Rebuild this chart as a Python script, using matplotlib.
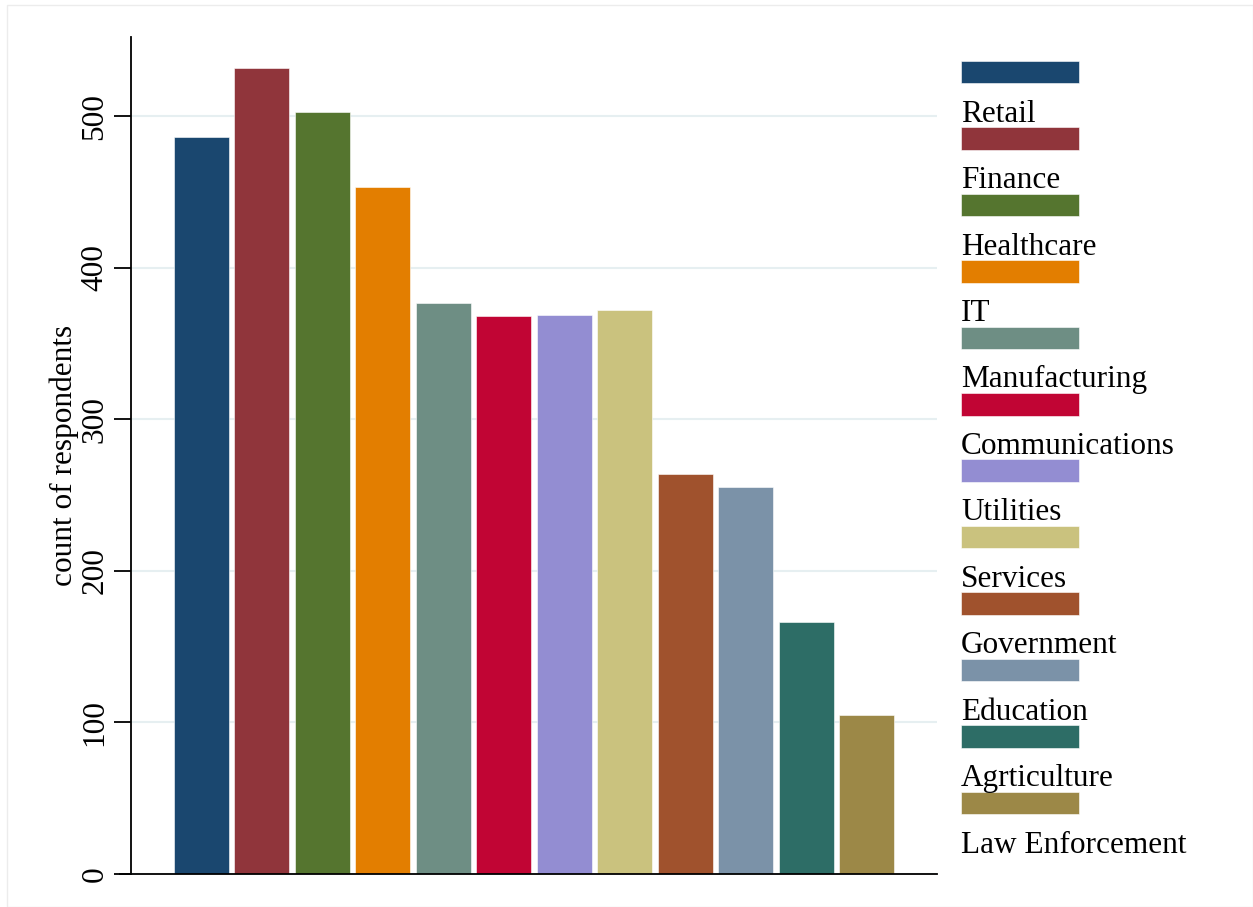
import matplotlib.pyplot as plt
from matplotlib.patches import Rectangle

# bar heights; legend labels sit under each swatch (Stata style)
sectors = ["Retail", "Finance", "Healthcare", "IT", "Manufacturing",
           "Communications", "Utilities", "Services", "Government",
           "Education", "Agrticulture", "Law Enforcement"]
counts = [486, 532, 503, 453, 377, 368, 369, 372, 264, 255, 166, 105]
colors = ["#1a476f", "#90353b", "#55752f", "#e37e00", "#6e8e84", "#c10534",
          "#938dd2", "#cac27e", "#a0522d", "#7b92a8", "#2d6d66", "#9c8847"]
yticks = [0, 100, 200, 300, 400, 500]

W, H = 1253, 907
plt.rcParams["font.family"] = ["Liberation Serif", "DejaVu Serif"]
fig = plt.figure(figsize=(W / 100, H / 100), dpi=100)


def px_box(x0, y0, x1, y1):
    return [x0 / W, 1 - y1 / H, (x1 - x0) / W, (y1 - y0) / H]


ax = fig.add_axes(px_box(131, 36.7, 937, 873.7))
x = list(range(len(counts)))
ax.bar(x, counts, width=0.91, color=colors, edgecolor="white", linewidth=0.4, zorder=2)
ax.set_xlim(-1.165, len(counts) - 1 + 1.165)
ax.set_ylim(0, 552.5)
ax.set_yticks(yticks)
ax.set_yticklabels([str(t) for t in yticks], rotation=90, va="center", fontsize=22.5)
ax.tick_params(axis="y", length=12, width=1.3, pad=3.5)
ax.set_xticks([])
ax.grid(axis="y", color="#e6eff1", linewidth=1.5, zorder=0)
ax.set_axisbelow(True)
for s in ["top", "right"]:
    ax.spines[s].set_visible(False)
ax.spines["left"].set_linewidth(1.3)
ax.spines["bottom"].set_linewidth(1.3)
ax.spines["bottom"].set_bounds(-1.165 - 0.18, len(counts) - 1 + 1.165)
ax.spines["bottom"].set_zorder(3)
ax.set_ylabel("count of respondents", fontsize=22.5, labelpad=1)

# legend: swatch, label beneath it
lax = fig.add_axes([0, 0, 1, 1])
lax.set_xlim(0, W)
lax.set_ylim(H, 0)
lax.axis("off")
step = 66.45
for i, (name, c) in enumerate(zip(sectors, colors)):
    top = 60.7 + step * i
    lax.add_patch(Rectangle((961, top), 118, 22.6, facecolor=c,
                            edgecolor="white", linewidth=0.4))
    lax.text(961, top + 61, name, fontsize=22.5, va="baseline", ha="left")

# faint outer frame of the graph region
lax.add_patch(Rectangle((7, 4.5), W - 7, H - 4.5, fill=False,
                        edgecolor="#ececec", linewidth=1))

fig.savefig("out.png", dpi=100, facecolor="white")
